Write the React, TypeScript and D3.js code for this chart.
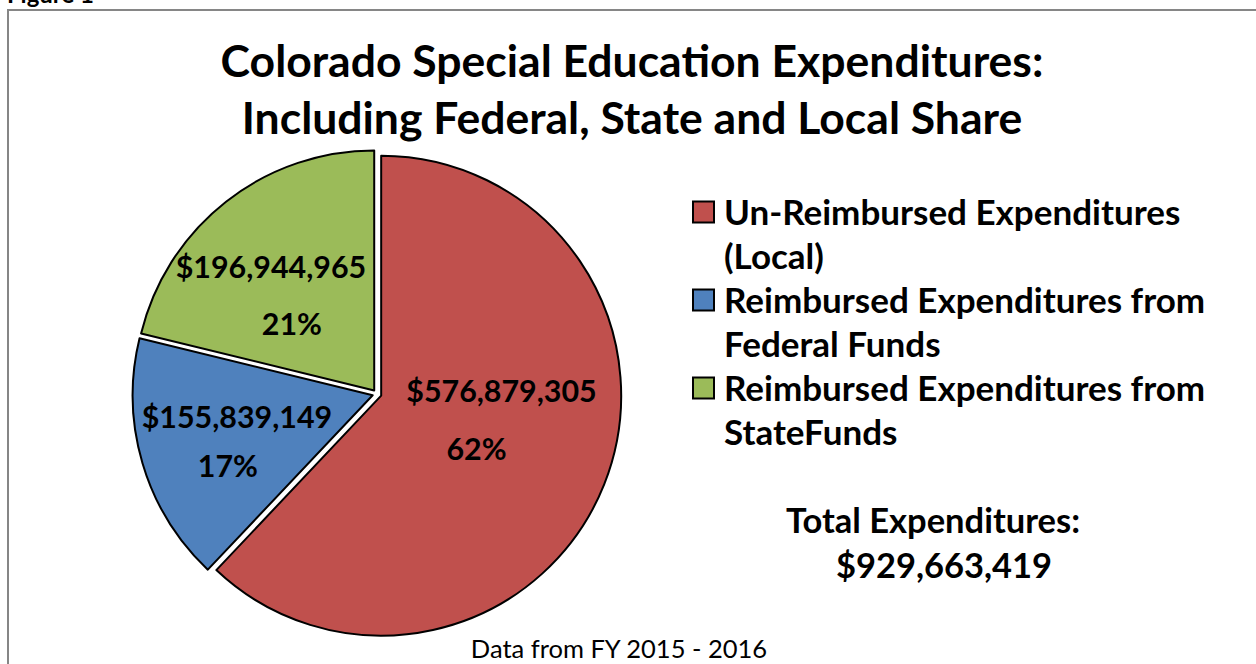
import React from "react";
import * as d3 from "d3";

const categories = [
  "Un-Reimbursed Expenditures (Local)",
  "Reimbursed Expenditures from Federal Funds",
  "Reimbursed Expenditures from StateFunds",
];
const values = [576879305, 155839149, 196944965];
const colors = ["#C0504D", "#4F81BD", "#9BBB59"];
const legendLines = [
  ["Un-Reimbursed Expenditures", "(Local)"],
  ["Reimbursed Expenditures from", "Federal Funds"],
  ["Reimbursed Expenditures from", "StateFunds"],
];
const titleLines = [
  "Colorado Special Education Expenditures:",
  "Including Federal, State and Local Share",
];
const footnote = "Data from FY 2015 - 2016";

// label layout (offsets from each slice's centroid at half radius)
const valueLabelOffset: [number, number][] = [
  [13, -47],
  [-25, -11],
  [-32, -33],
];
const pctLabelOffset: [number, number][] = [
  [-12, 11],
  [-34, 38],
  [-11, 24],
];

const W = 1256;
const H = 664;
const FONT = "Lato, 'Open Sans', sans-serif";

export default function App() {
  const cx = 377;
  const cy = 394;
  const r = 240;
  const explode = 4.5;
  const total = d3.sum(values);
  const pie = d3.pie<number>().sort(null).startAngle(0).endAngle(2 * Math.PI);
  const arcs = pie(values);
  const arc = d3.arc<d3.PieArcDatum<number>>().innerRadius(0).outerRadius(r);
  const labelArc = d3.arc<d3.PieArcDatum<number>>().innerRadius(0).outerRadius(r);
  const fmt = d3.format("$,");

  return (
    <svg width={W} height={H} style={{ position: "absolute", left: 0, top: 0, background: "#fff" }}>
      <rect x={0} y={0} width={W} height={H} fill="#fff" />
      <text x={7} y={3} fontFamily={FONT} fontWeight="bold" fontSize={24} fill="#000">
        Figure 1
      </text>
      <rect x={8} y={10} width={W + 10} height={H + 10} fill="none" stroke="#868686" strokeWidth={2} />
      {titleLines.map((t, i) => (
        <text
          key={i}
          x={632}
          y={77 + i * 57}
          textAnchor="middle"
          fontFamily={FONT}
          fontWeight="bold"
          fontSize={44.5}
          fill="#000"
        >
          {t}
        </text>
      ))}
      <g>
        {arcs.map((a, i) => {
          const mid = (a.startAngle + a.endAngle) / 2;
          const dx = Math.sin(mid) * explode;
          const dy = -Math.cos(mid) * explode;
          return (
            <path
              key={i}
              d={arc(a) || ""}
              transform={`translate(${cx + dx},${cy + dy})`}
              fill={colors[i]}
              stroke="#000"
              strokeWidth={2}
              strokeLinejoin="round"
            />
          );
        })}
        {arcs.map((a, i) => {
          const [x0, y0] = labelArc.centroid(a);
          const x = cx + x0;
          const y = cy + y0;
          const pct = Math.round((a.data / total) * 100) + "%";
          return (
            <g key={"l" + i} fontFamily={FONT} fontWeight="bold" fontSize={30.4} fill="#000" textAnchor="middle">
              <text x={x + valueLabelOffset[i][0]} y={y + valueLabelOffset[i][1]} dy="0.36em">
                {fmt(a.data)}
              </text>
              <text x={x + pctLabelOffset[i][0]} y={y + pctLabelOffset[i][1]} dy="0.36em">
                {pct}
              </text>
            </g>
          );
        })}
      </g>
      <g fontFamily={FONT} fontWeight="bold" fontSize={35} fill="#000">
        {legendLines.map((lines, i) => {
          const y0 = 212 + i * 88;
          return (
            <g key={i}>
              <rect x={693} y={y0 - 10.5} width={21} height={21} fill={colors[i]} stroke="#000" strokeWidth={2} />
              {lines.map((l, j) => (
                <text key={j} x={724} y={y0 + j * 44.5} dy="0.36em">
                  {l}
                </text>
              ))}
            </g>
          );
        })}
      </g>
      <g fontFamily={FONT} fontWeight="bold" fontSize={34.5} fill="#000" textAnchor="middle">
        <text x={933} y={521} dy="0.36em">
          Total Expenditures:
        </text>
        <text x={944} y={566} dy="0.36em">
          {fmt(total)}
        </text>
      </g>
      <text x={619} y={649} dy="0.36em" textAnchor="middle" fontFamily={FONT} fontSize={25.5} fill="#000">
        {footnote}
      </text>
    </svg>
  );
}
